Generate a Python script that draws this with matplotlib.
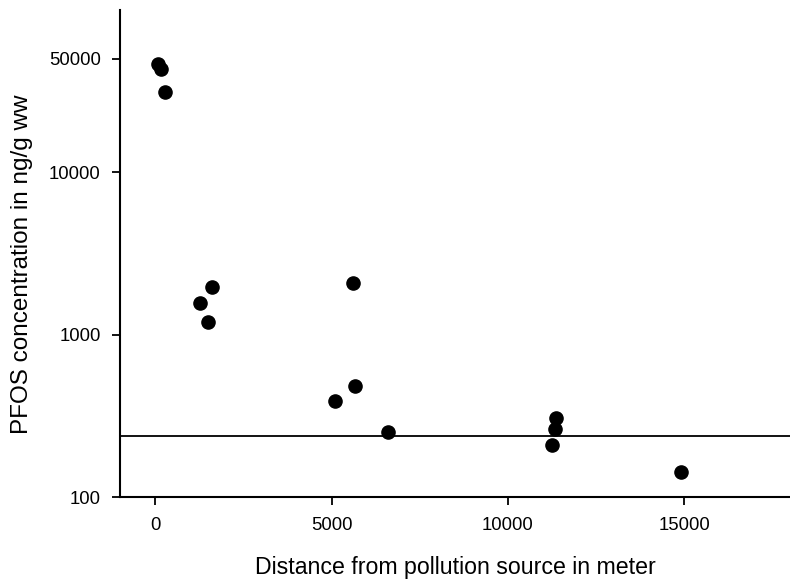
import matplotlib.pyplot as plt

plt.rcParams['font.family'] = ['Liberation Sans', 'DejaVu Sans']

# distance from pollution source (m) and PFOS concentration (ng/g ww)
distance = [80, 155, 280, 1260, 1480, 1620, 5090, 5600, 5660, 6600,
            11260, 11345, 11350, 14900]
pfos = [46500, 43000, 31300, 1560, 1200, 1960, 390, 2080, 486, 253,
        209, 264, 308, 143]
threshold = 240

fig = plt.figure(figsize=(7.9, 5.83), dpi=100)
ax = fig.add_axes([0.152, 0.147, 0.848, 0.836])

ax.scatter(distance, pfos, s=90, color='black', zorder=3)
ax.axhline(threshold, color='black', lw=1.3)

ax.set_yscale('log')
ax.set_xlim(-1000, 18000)
ax.set_ylim(100, 100000)
ax.set_xticks([0, 5000, 10000, 15000])
ax.set_yticks([100, 1000, 10000, 50000])
ax.set_yticklabels(['100', '1000', '10000', '50000'])
ax.minorticks_off()

for side in ['top', 'right']:
    ax.spines[side].set_visible(False)
for side in ['left', 'bottom']:
    ax.spines[side].set_linewidth(1.5)
ax.tick_params(direction='out', length=6, width=1.3, labelsize=13.3, pad=8)

ax.set_xlabel('Distance from pollution source in meter', fontsize=16.7, labelpad=16)
ax.set_ylabel('PFOS concentration in ng/g ww', fontsize=17.5)
ax.yaxis.set_label_coords(-0.13, 0.478)

fig.savefig('out.png', dpi=100)
